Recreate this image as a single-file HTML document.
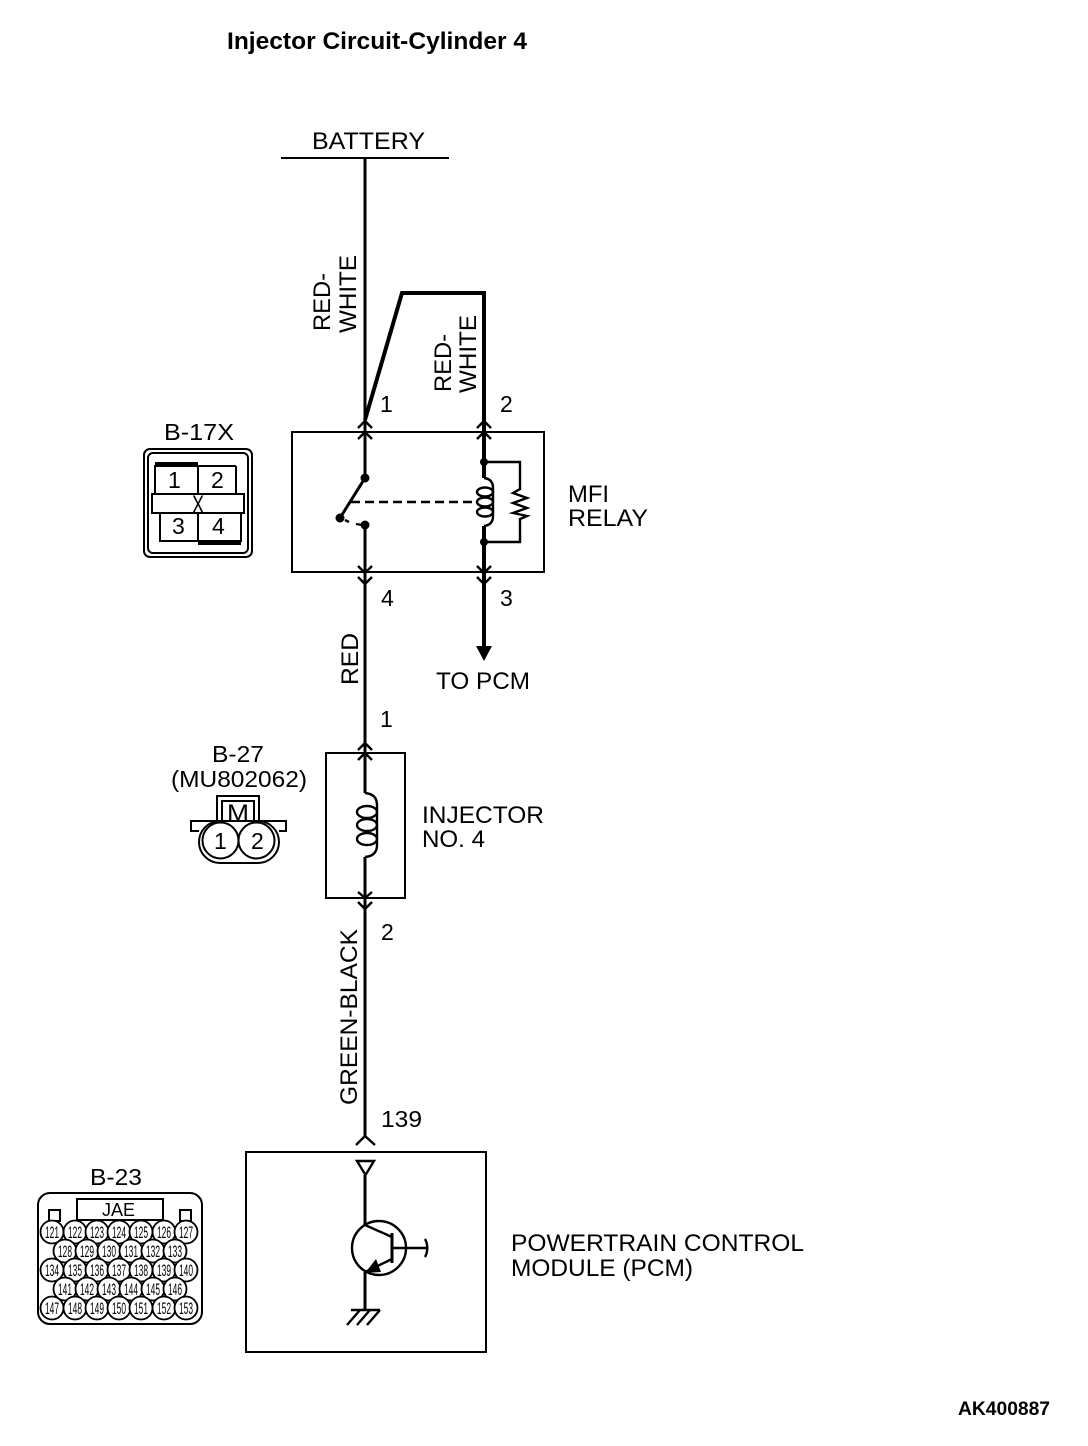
<!DOCTYPE html>
<html><head><meta charset="utf-8"><style>
html,body{margin:0;padding:0;background:#fff}
svg{display:block}
text{font-family:"Liberation Sans",sans-serif;fill:#000;font-size:24px}
.s{font-size:23px}
.n{font-size:17px}
</style></head><body>
<svg width="1088" height="1446" viewBox="0 0 1088 1446" xmlns="http://www.w3.org/2000/svg">
<text x="227" y="49" font-weight="bold" textLength="300" lengthAdjust="spacingAndGlyphs">Injector Circuit-Cylinder 4</text>
<text x="312" y="149" textLength="113" lengthAdjust="spacingAndGlyphs">BATTERY</text>
<g fill="none" stroke="#000" stroke-width="2">
<path d="M281 158H449"/>
<rect x="292" y="432" width="252" height="140"/>
<rect x="326" y="753" width="79" height="145"/>
<rect x="246" y="1152" width="240" height="200"/>
</g>
<g fill="none" stroke="#000" stroke-width="3">
<path d="M365 158V478M365 525V793M365 857V1136"/>
<path d="M365 420L402 293H484V478" stroke-width="4"/>
<path d="M484 526V647" stroke-width="4"/>
<path d="M365 1175V1225M365 1272V1310"/>
</g>
<g fill="none" stroke="#000" stroke-width="2.4">
<path d="M358 428L365 421L372 428M358 439L365 432L372 439"/>
<path d="M477 428L484 421L491 428M477 439L484 432L491 439"/>
<path d="M358 566L365 573L372 566M358 577L365 584L372 577"/>
<path d="M477 566L484 573L491 566M477 577L484 584L491 577"/>
<path d="M358 750L365 743L372 750M358 760L365 753L372 760"/>
<path d="M358 892L365 898L372 892M358 902L365 909L372 902"/>
<path d="M356 1145L365 1136L375 1145"/>
</g>
<path d="M476 646H492L484 661Z" fill="#000"/>
<!-- relay inside -->
<circle cx="365" cy="478" r="4.5"/><circle cx="340" cy="518" r="4.5"/><circle cx="365" cy="525" r="4.5"/>
<circle cx="484" cy="462" r="4"/><circle cx="484" cy="542" r="4"/>
<g fill="none" stroke="#000" stroke-width="2.4">
<path d="M365 478L340 518" stroke-width="3"/>
<path d="M345 520L349 522M356 524L362 525"/>
<path d="M351 502H478" stroke-dasharray="9 5"/>
<path d="M484 462H520V489L513 493L527 498L513 503L527 508L513 513L527 516L520 519V542H484"/>
<path d="M484 478Q493 479 493 488V516Q493 525 484 526"/>
<ellipse cx="485" cy="492" rx="8" ry="4.5"/>
<ellipse cx="485" cy="502" rx="8" ry="4.5"/>
<ellipse cx="485" cy="512" rx="8" ry="4.5"/>
<path d="M365 793Q377 794 377 805V845Q377 856 365 857"/>
<ellipse cx="367" cy="812" rx="10" ry="6"/>
<ellipse cx="367" cy="825" rx="10" ry="6"/>
<ellipse cx="367" cy="839" rx="10" ry="6"/>
</g>
<!-- B-17X -->
<text x="164" y="440" class="s" textLength="70" lengthAdjust="spacingAndGlyphs">B-17X</text>
<g fill="none" stroke="#000" stroke-width="2">
<rect x="144" y="449" width="108" height="108" rx="6"/>
<rect x="148" y="453" width="100" height="100" rx="5"/>
<path d="M155 465V494M198 465V494M198 513V541M236 466V494M155 466H236M160 513V541H241V513"/>
<rect x="152" y="494" width="92" height="19"/>
</g>
<path d="M155 462H198V466H155ZM198 541H241V545H198Z" fill="#000"/>
<text x="168" y="488" class="s">1</text><text x="211" y="488" class="s">2</text>
<text x="172" y="534" class="s">3</text><text x="212" y="534" class="s">4</text>
<text x="192" y="513" style="font-size:25px" textLength="12" lengthAdjust="spacingAndGlyphs">X</text>
<!-- labels -->
<text transform="translate(330,331) rotate(-90)" textLength="58" lengthAdjust="spacingAndGlyphs">RED-</text>
<text transform="translate(356,333) rotate(-90)" textLength="78" lengthAdjust="spacingAndGlyphs">WHITE</text>
<text transform="translate(451,392) rotate(-90)" textLength="58" lengthAdjust="spacingAndGlyphs">RED-</text>
<text transform="translate(476,393) rotate(-90)" textLength="78" lengthAdjust="spacingAndGlyphs">WHITE</text>
<text transform="translate(358,685) rotate(-90)" textLength="52" lengthAdjust="spacingAndGlyphs">RED</text>
<text transform="translate(357,1105) rotate(-90)" textLength="176" lengthAdjust="spacingAndGlyphs">GREEN-BLACK</text>
<text x="380" y="412" class="s">1</text><text x="500" y="412" class="s">2</text>
<text x="381" y="606" class="s">4</text><text x="500" y="606" class="s">3</text>
<text x="380" y="727" class="s">1</text><text x="381" y="940" class="s">2</text>
<text x="381" y="1127" class="s" textLength="41" lengthAdjust="spacingAndGlyphs">139</text>
<text x="568" y="502" textLength="41" lengthAdjust="spacingAndGlyphs">MFI</text>
<text x="568" y="526" textLength="80" lengthAdjust="spacingAndGlyphs">RELAY</text>
<text x="436" y="689" textLength="94" lengthAdjust="spacingAndGlyphs">TO PCM</text>
<text x="422" y="823" textLength="122" lengthAdjust="spacingAndGlyphs">INJECTOR</text>
<text x="422" y="847" textLength="63" lengthAdjust="spacingAndGlyphs">NO. 4</text>
<text x="511" y="1251" textLength="293" lengthAdjust="spacingAndGlyphs">POWERTRAIN CONTROL</text>
<text x="511" y="1276" textLength="182" lengthAdjust="spacingAndGlyphs">MODULE (PCM)</text>
<text x="958" y="1415" font-weight="bold" style="font-size:19px" textLength="92" lengthAdjust="spacingAndGlyphs">AK400887</text>
<!-- B-27 -->
<text x="212" y="762" class="s" textLength="52" lengthAdjust="spacingAndGlyphs">B-27</text>
<text x="171" y="787" class="s" textLength="136" lengthAdjust="spacingAndGlyphs">(MU802062)</text>
<text x="227" y="821" style="font-size:24px" textLength="22" lengthAdjust="spacingAndGlyphs">M</text>
<g fill="none" stroke="#000" stroke-width="2">
<path d="M217 821V796H259V821M222 821V801H254V821"/>
<path d="M199 831H191V821H286V831H279"/>
<rect x="199" y="821" width="80" height="42" rx="21" fill="#fff"/>
<circle cx="220.5" cy="840.5" r="18" fill="#fff"/>
<circle cx="256.5" cy="840.5" r="18" fill="#fff"/>
</g>
<text x="214" y="849" class="s">1</text><text x="251" y="849" class="s">2</text>
<!-- PCM inside -->
<path d="M357 1161H374L365.5 1175Z" fill="#fff" stroke="#000" stroke-width="2.4"/>
<g fill="none" stroke="#000" stroke-width="2.4">
<circle cx="379" cy="1248" r="27"/>
<path d="M392 1233V1263" stroke-width="3"/>
<path d="M365 1225L392 1237M392 1259L365 1272"/>
<path d="M392 1248H426M425 1239C428 1244 428 1252 425 1257"/>
<path d="M351 1310H380M360 1310L347 1325M370 1310L357 1325M380 1310L367 1325"/>
</g>
<path d="M365 1273L376 1259L381 1272Z" fill="#000"/>
<!-- B-23 -->
<text x="90" y="1185" class="s" textLength="52" lengthAdjust="spacingAndGlyphs">B-23</text>
<g fill="none" stroke="#000" stroke-width="2">
<rect x="38" y="1193" width="164" height="131" rx="12"/>
<rect x="77" y="1199" width="86" height="21"/>
<rect x="49" y="1210" width="11" height="11"/>
<rect x="180" y="1210" width="11" height="11"/>
</g>
<text x="102" y="1216" style="font-size:18px" textLength="33" lengthAdjust="spacingAndGlyphs">JAE</text>
<g fill="#fff" stroke="#000" stroke-width="1.8">
<circle cx="52" cy="1232" r="11.5"/><circle cx="75" cy="1232" r="11.5"/><circle cx="97" cy="1232" r="11.5"/><circle cx="119" cy="1232" r="11.5"/><circle cx="141" cy="1232" r="11.5"/><circle cx="164" cy="1232" r="11.5"/><circle cx="186" cy="1232" r="11.5"/>
<circle cx="65" cy="1251" r="11.5"/><circle cx="87" cy="1251" r="11.5"/><circle cx="109" cy="1251" r="11.5"/><circle cx="131" cy="1251" r="11.5"/><circle cx="153" cy="1251" r="11.5"/><circle cx="175" cy="1251" r="11.5"/>
<circle cx="52" cy="1270" r="11.5"/><circle cx="75" cy="1270" r="11.5"/><circle cx="97" cy="1270" r="11.5"/><circle cx="119" cy="1270" r="11.5"/><circle cx="141" cy="1270" r="11.5"/><circle cx="164" cy="1270" r="11.5"/><circle cx="186" cy="1270" r="11.5"/>
<circle cx="65" cy="1289" r="11.5"/><circle cx="87" cy="1289" r="11.5"/><circle cx="109" cy="1289" r="11.5"/><circle cx="131" cy="1289" r="11.5"/><circle cx="153" cy="1289" r="11.5"/><circle cx="175" cy="1289" r="11.5"/>
<circle cx="52" cy="1308" r="11.5"/><circle cx="75" cy="1308" r="11.5"/><circle cx="97" cy="1308" r="11.5"/><circle cx="119" cy="1308" r="11.5"/><circle cx="141" cy="1308" r="11.5"/><circle cx="164" cy="1308" r="11.5"/><circle cx="186" cy="1308" r="11.5"/>
</g>
<g text-anchor="middle">
<text class="n" x="52" y="1238" textLength="14" lengthAdjust="spacingAndGlyphs">121</text><text class="n" x="75" y="1238" textLength="14" lengthAdjust="spacingAndGlyphs">122</text><text class="n" x="97" y="1238" textLength="14" lengthAdjust="spacingAndGlyphs">123</text><text class="n" x="119" y="1238" textLength="14" lengthAdjust="spacingAndGlyphs">124</text><text class="n" x="141" y="1238" textLength="14" lengthAdjust="spacingAndGlyphs">125</text><text class="n" x="164" y="1238" textLength="14" lengthAdjust="spacingAndGlyphs">126</text><text class="n" x="186" y="1238" textLength="14" lengthAdjust="spacingAndGlyphs">127</text>
<text class="n" x="65" y="1257" textLength="14" lengthAdjust="spacingAndGlyphs">128</text><text class="n" x="87" y="1257" textLength="14" lengthAdjust="spacingAndGlyphs">129</text><text class="n" x="109" y="1257" textLength="14" lengthAdjust="spacingAndGlyphs">130</text><text class="n" x="131" y="1257" textLength="14" lengthAdjust="spacingAndGlyphs">131</text><text class="n" x="153" y="1257" textLength="14" lengthAdjust="spacingAndGlyphs">132</text><text class="n" x="175" y="1257" textLength="14" lengthAdjust="spacingAndGlyphs">133</text>
<text class="n" x="52" y="1276" textLength="14" lengthAdjust="spacingAndGlyphs">134</text><text class="n" x="75" y="1276" textLength="14" lengthAdjust="spacingAndGlyphs">135</text><text class="n" x="97" y="1276" textLength="14" lengthAdjust="spacingAndGlyphs">136</text><text class="n" x="119" y="1276" textLength="14" lengthAdjust="spacingAndGlyphs">137</text><text class="n" x="141" y="1276" textLength="14" lengthAdjust="spacingAndGlyphs">138</text><text class="n" x="164" y="1276" textLength="14" lengthAdjust="spacingAndGlyphs">139</text><text class="n" x="186" y="1276" textLength="14" lengthAdjust="spacingAndGlyphs">140</text>
<text class="n" x="65" y="1295" textLength="14" lengthAdjust="spacingAndGlyphs">141</text><text class="n" x="87" y="1295" textLength="14" lengthAdjust="spacingAndGlyphs">142</text><text class="n" x="109" y="1295" textLength="14" lengthAdjust="spacingAndGlyphs">143</text><text class="n" x="131" y="1295" textLength="14" lengthAdjust="spacingAndGlyphs">144</text><text class="n" x="153" y="1295" textLength="14" lengthAdjust="spacingAndGlyphs">145</text><text class="n" x="175" y="1295" textLength="14" lengthAdjust="spacingAndGlyphs">146</text>
<text class="n" x="52" y="1314" textLength="14" lengthAdjust="spacingAndGlyphs">147</text><text class="n" x="75" y="1314" textLength="14" lengthAdjust="spacingAndGlyphs">148</text><text class="n" x="97" y="1314" textLength="14" lengthAdjust="spacingAndGlyphs">149</text><text class="n" x="119" y="1314" textLength="14" lengthAdjust="spacingAndGlyphs">150</text><text class="n" x="141" y="1314" textLength="14" lengthAdjust="spacingAndGlyphs">151</text><text class="n" x="164" y="1314" textLength="14" lengthAdjust="spacingAndGlyphs">152</text><text class="n" x="186" y="1314" textLength="14" lengthAdjust="spacingAndGlyphs">153</text>
</g>
</svg>
</body></html>
